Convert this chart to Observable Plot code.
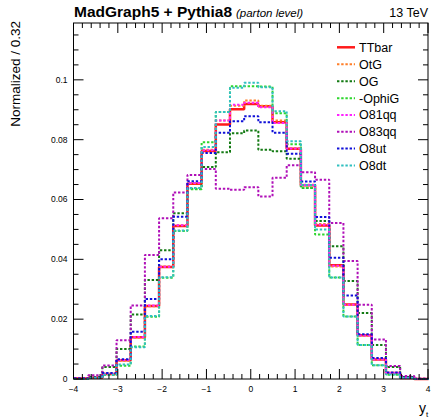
<!DOCTYPE html>
<html><head><meta charset="utf-8">
<script src="https://cdn.jsdelivr.net/npm/d3@7"></script>
<script src="https://cdn.jsdelivr.net/npm/@observablehq/plot@0.6"></script>
<style>body{margin:0;background:#fff}</style>
</head><body><div id="chart"></div>
<script>
// bin edges (bin width 0.32)
const binEdges = [-4,-3.68,-3.36,-3.04,-2.72,-2.4,-2.08,-1.76,-1.44,-1.12,-0.8,-0.48,-0.16,0.16,0.48,0.8,1.12,1.44,1.76,2.08,2.4,2.72,3.04,3.36,3.68,4];

const TTbar = [0.0003,0.0006,0.0018,0.0064,0.0141,0.0246,0.0376,0.0513,0.0654,0.0764,0.0852,0.0903,0.0921,0.0913,0.0860,0.0771,0.0649,0.0515,0.0382,0.0251,0.0148,0.0067,0.0022,0.0005,0.0002];
const OtG   = [0.0003,0.0006,0.0018,0.0063,0.0140,0.0245,0.0378,0.0516,0.0656,0.0768,0.0866,0.0915,0.0933,0.0915,0.0866,0.0773,0.0651,0.0520,0.0378,0.0249,0.0146,0.0066,0.0021,0.0005,0.0002];
const OG    = [0.0003,0.0008,0.0042,0.0102,0.0217,0.0333,0.0432,0.0556,0.0638,0.0710,0.0760,0.0823,0.0832,0.0768,0.0763,0.0738,0.0640,0.0530,0.0445,0.0329,0.0222,0.0115,0.0042,0.0008,0.0002];
const OphiG = [0.0002,0.0005,0.0015,0.0046,0.0110,0.0210,0.0340,0.0496,0.0636,0.0793,0.0894,0.0980,0.0980,0.0979,0.0890,0.0786,0.0641,0.0485,0.0341,0.0211,0.0115,0.0048,0.0016,0.0005,0.0002];
const O81qq = [0.0003,0.0006,0.0018,0.0065,0.0142,0.0247,0.0377,0.0516,0.0657,0.0766,0.0866,0.0918,0.0925,0.0910,0.0857,0.0772,0.0650,0.0517,0.0380,0.0250,0.0147,0.0067,0.0022,0.0005,0.0002];
const O83qq = [0.0004,0.0014,0.0047,0.0131,0.0247,0.0416,0.0539,0.0625,0.0684,0.0704,0.0638,0.0634,0.0643,0.0612,0.0674,0.0716,0.0693,0.0668,0.0523,0.0396,0.0250,0.0134,0.0045,0.0012,0.0003];
const O8ut  = [0.0003,0.0006,0.0022,0.0068,0.0160,0.0269,0.0402,0.0544,0.0663,0.0757,0.0825,0.0863,0.0880,0.0860,0.0825,0.0755,0.0662,0.0543,0.0407,0.0281,0.0151,0.0072,0.0023,0.0006,0.0002];
const O8dt  = [0.0002,0.0005,0.0016,0.0050,0.0108,0.0212,0.0342,0.0498,0.0640,0.0777,0.0894,0.0975,0.0992,0.0977,0.0897,0.0796,0.0650,0.0501,0.0341,0.0211,0.0115,0.0048,0.0017,0.0005,0.0002];

const seriesNames = ["TTbar","OtG","OG","-OphiG","O81qq","O83qq","O8ut","O8dt"];
const seriesValues = [TTbar,OtG,OG,OphiG,O81qq,O83qq,O8ut,O8dt];
const seriesColors = ["#ff1a1a","#ff7f2a","#137a13","#2ed62e","#ff22ff","#b010b8","#1010d8","#30c0c0"];

const xTickLabels = ["−4","−3","−2","−1","0","1","2","3","4"];
const yTickLabels = ["0","0.02","0.04","0.06","0.08","0.1"];

function stepData(vals){
  return binEdges.map((e,i)=>({x:e, y: vals[Math.min(i, vals.length-1)]}));
}

const W = 433, H = 420;
const DASH = "2.4,1.8";
const marks = seriesValues.map((vals,i)=>Plot.line(stepData(vals), {
  x:"x", y:"y", curve:"step-after", stroke: seriesColors[i],
  strokeWidth: i===0 ? 2.5 : 2, strokeLinecap: "butt", strokeLinejoin: "miter",
  strokeDasharray: i===0 ? null : DASH
}));

const plot = Plot.plot({
  width: W, height: H,
  marginLeft: 73.5, marginRight: 5, marginTop: 23, marginBottom: 41,
  x: {domain: [-4, 4], axis: null},
  y: {domain: [0, 0.119], axis: null},
  style: {background: "#fff", fontFamily: "'Liberation Sans', Arial, sans-serif"},
  marks
});
document.getElementById("chart").appendChild(plot);

const svg = d3.select(plot);
const xs = plot.scale("x"), ys = plot.scale("y");
const X = v => xs.apply(v), Y = v => ys.apply(v);
const L = X(-4), R = X(4), B = Y(0), T = Y(0.119);

const g = svg.append("g").attr("stroke","#000").attr("stroke-width",1).attr("fill","none");
g.append("rect").attr("x",L).attr("y",T).attr("width",R-L).attr("height",B-T);

// x ticks: major every 1, minor every 0.2
for (let k = -20; k <= 20; k++) {
  const v = k/5, px = X(v), len = (k % 5 === 0) ? 10 : 5;
  g.append("line").attr("x1",px).attr("x2",px).attr("y1",B).attr("y2",B-len);
  g.append("line").attr("x1",px).attr("x2",px).attr("y1",T).attr("y2",T+len);
}
// y ticks: major every 0.02, minor every 0.005
for (let k = 0; k <= 23; k++) {
  const v = k*0.005, py = Y(v), len = (k % 4 === 0) ? 10 : 5;
  g.append("line").attr("x1",L).attr("x2",L+len).attr("y1",py).attr("y2",py);
  g.append("line").attr("x1",R).attr("x2",R-len).attr("y1",py).attr("y2",py);
}

const t = svg.append("g").attr("fill","#000").attr("text-anchor","start")
  .attr("font-family","'Liberation Sans', Arial, sans-serif");
xTickLabels.forEach((s,i)=>{
  t.append("text").attr("x",X(i-4)).attr("y",392).attr("text-anchor","middle")
   .attr("font-size",8.5).text(s);
});
yTickLabels.forEach((s,i)=>{
  t.append("text").attr("x",L-6).attr("y",Y(i*0.02)).attr("dy","0.35em").attr("text-anchor","end")
   .attr("font-size",8.5).text(s);
});

// titles
t.append("text").attr("x",74).attr("y",17).attr("font-size",15.5).attr("font-weight","bold").text("MadGraph5 + Pythia8");
t.append("text").attr("x",236).attr("y",17).attr("font-size",11.5).attr("font-style","italic").text("(parton level)");
t.append("text").attr("x",428).attr("y",17).attr("font-size",12.5).attr("text-anchor","end").text("13 TeV");

// axis titles
t.append("text").attr("transform","translate(20,21) rotate(-90)").attr("text-anchor","end")
 .attr("font-size",13.5).text("Normalized / 0.32");
const xl = t.append("text").attr("x",419).attr("y",413).attr("font-size",14);
xl.append("tspan").text("y");
xl.append("tspan").attr("font-size",8).attr("dy",4).text("t");

// legend
const legY = [47.3,64.3,81.2,98.2,115,131.8,148.6,165.5];
seriesNames.forEach((name,i)=>{
  svg.append("line").attr("x1",337).attr("x2",355).attr("y1",legY[i]).attr("y2",legY[i])
    .attr("stroke",seriesColors[i]).attr("stroke-width", i===0?2.5:2)
    .attr("stroke-dasharray", i===0?null:DASH);
  t.append("text").attr("x",359).attr("y",legY[i]).attr("dy","0.35em").attr("font-size",12.5).text(name);
});
</script>
</body></html>
